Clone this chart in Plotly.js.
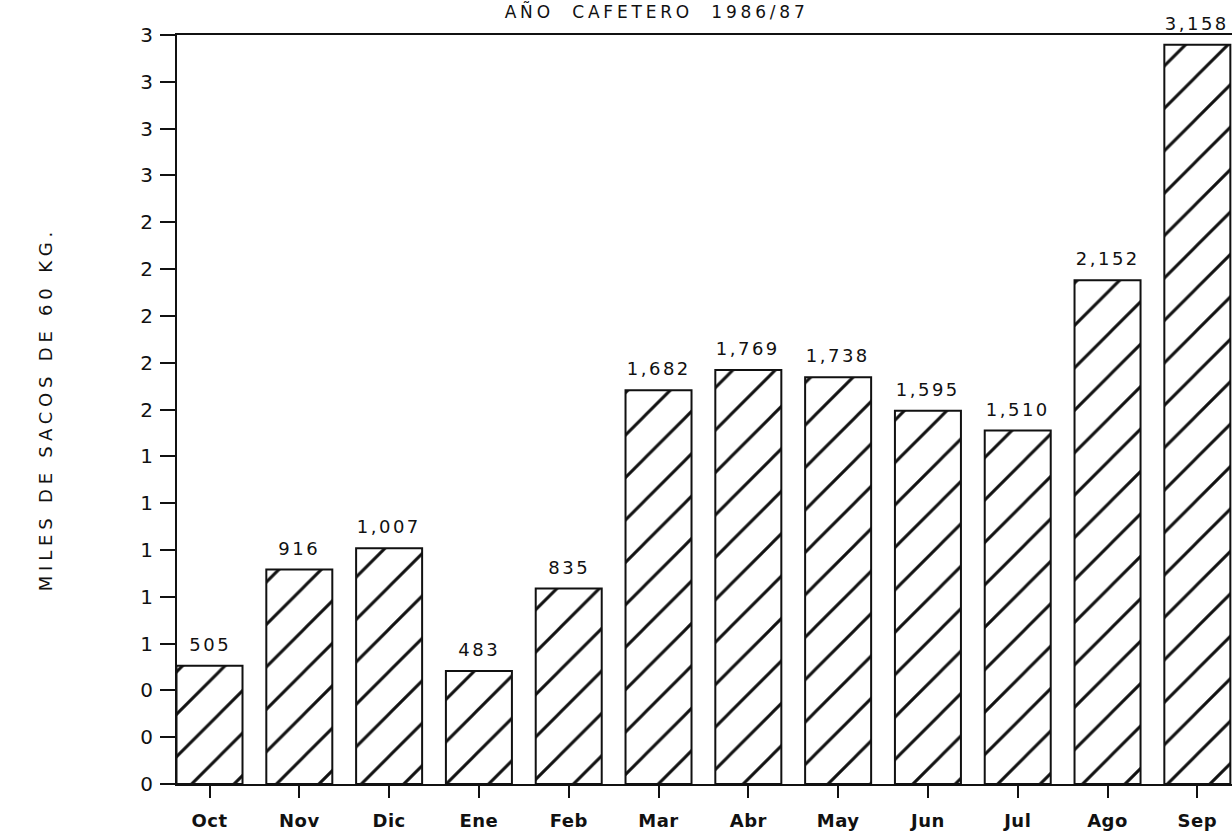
<!DOCTYPE html>
<html>
<head>
<meta charset="utf-8">
<script src="https://cdn.plot.ly/plotly-3.0.1.min.js"></script>
<style>
html,body{margin:0;padding:0;background:#fff;}
#chart{width:1232px;height:832px;}
#chart .gtitle{letter-spacing:3.8px;}
#chart .annotation-text{letter-spacing:2.5px;}
#chart g.annotation[data-index="12"] text{letter-spacing:4.8px;}
#chart .xtick text{letter-spacing:0.5px;}
</style>
</head>
<body>
<div id="chart"></div>
<script>
const months = ["Oct","Nov","Dic","Ene","Feb","Mar","Abr","May","Jun","Jul","Ago","Sep"];
const sacks = [505, 916, 1007, 483, 835, 1682, 1769, 1738, 1595, 1510, 2152, 3158];
const yTickVals = [0,200,400,600,800,1000,1200,1400,1600,1800,2000,2200,2400,2600,2800,3000,3200];
const yTickText = yTickVals.map(v => String(Math.round(v/1000)));
const valueLabels = sacks.map(v => v.toLocaleString("en-US"));

const font = "DejaVu Sans, Liberation Sans, Arial, sans-serif";

const trace = {
  type: "bar",
  x: months.map((m,i)=>i),
  y: sacks,
  width: 0.735,
  marker: {
    color: "#ffffff",
    line: {color: "#111", width: 2},
    pattern: {shape: "/", fgcolor: "#111", bgcolor: "#ffffff", size: 30, solidity: 0.1, fillmode: "replace"}
  },
  hoverinfo: "skip"
};

const annotations = sacks.map((v,i)=>({
  x: i, y: v, xref: "x", yref: "y", text: valueLabels[i],
  showarrow: false, yanchor: "bottom", yshift: 9,
  font: {family: font, size: 18, color: "#111"}
}));
annotations.push({
  text: "MILES DE SACOS DE 60 KG.", textangle: -90,
  xref: "paper", yref: "paper", x: -0.125, y: 0.5, xanchor: "center", yanchor: "middle",
  showarrow: false, font: {family: font, size: 18, color: "#111"}
});

const layout = {
  width: 1232, height: 832,
  margin: {l: 177, r: 0, t: 35, b: 48},
  paper_bgcolor: "#ffffff", plot_bgcolor: "#ffffff",
  showlegend: false,
  title: {
    text: "AÑO  CAFETERO  1986/87",
    x: 0.533, xref: "container", xanchor: "center",
    y: 0.986, yref: "container", yanchor: "middle",
    font: {family: font, size: 17, color: "#111"}
  },
  xaxis: {
    range: [-0.362, 11.386],
    tickvals: months.map((m,i)=>i),
    ticktext: months,
    ticks: "outside", ticklen: 12, tickwidth: 2, tickcolor: "#111",
    showline: true, linecolor: "#111", linewidth: 2, mirror: true,
    showgrid: false, zeroline: false,
    ticklabelstandoff: 7,
    tickfont: {family: font, size: 18, color: "#111", weight: "bold"}
  },
  yaxis: {
    range: [0, 3200],
    tickvals: yTickVals, ticktext: yTickText,
    ticks: "outside", ticklen: 15, tickwidth: 2, tickcolor: "#111",
    showline: true, linecolor: "#111", linewidth: 2,
    showgrid: false, zeroline: false,
    ticklabelstandoff: 3,
    tickfont: {family: font, size: 20, color: "#111"}
  },
  annotations: annotations
};

Plotly.newPlot("chart", [trace], layout, {staticPlot: true, displayModeBar: false});
</script>
</body>
</html>
